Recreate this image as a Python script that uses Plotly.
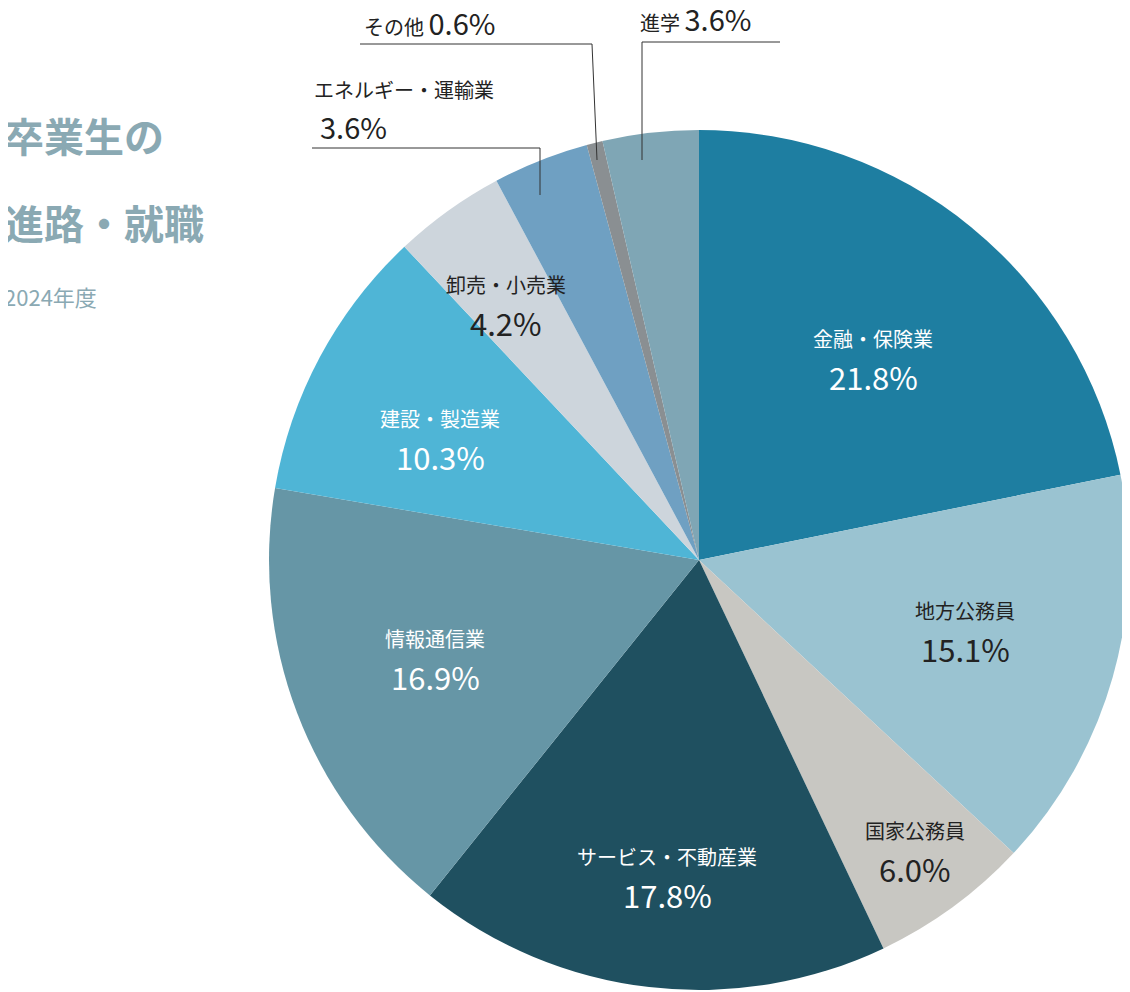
import plotly.graph_objects as go

labels = ['金融・保険業', '地方公務員', '国家公務員', 'サービス・不動産業', '情報通信業',
          '建設・製造業', '卸売・小売業', 'エネルギー・運輸業', 'その他', '進学']
values = [21.8, 15.1, 6.0, 17.8, 16.9, 10.3, 4.2, 3.6, 0.6, 3.6]
colors = ['#1e7ea1', '#9ac3d1', '#c8c7c2', '#1f5060', '#6696a6',
          '#4fb5d6', '#cdd5dc', '#6fa0c2', '#8a8f92', '#7fa6b5']

W, H = 1130, 992
OFF = 8  # page margin offset
FONT = 'Noto Sans CJK JP'

def px(x):
    return (x - OFF) / W

def py(y):
    return 1 - (y - OFF) / H

fig = go.Figure(go.Pie(
    labels=labels, values=values, sort=False, direction='clockwise', rotation=0,
    marker=dict(colors=colors, line=dict(width=0)), textinfo='none',
    hoverinfo='label+percent', showlegend=False,
    domain=dict(x=[px(269), px(1129)], y=[py(990), py(130)]),
))

# label centre in pixels, text colour
label_pos = {
    '金融・保険業': (873, 358, 'white'),
    '地方公務員': (965, 630, '#222'),
    '国家公務員': (915, 850, '#222'),
    'サービス・不動産業': (667, 876, 'white'),
    '情報通信業': (435, 658, 'white'),
    '建設・製造業': (440, 438, 'white'),
    '卸売・小売業': (506, 304, '#222'),
}
anns = []

def ann(text, x, y, size, color, xanchor='center'):
    anns.append(dict(x=px(x), y=py(y), text=text, showarrow=False, xanchor=xanchor,
                     yanchor='middle', font=dict(size=size, color=color, family=FONT)))

for lab, val in zip(labels, values):
    if lab in label_pos:
        x, y, c = label_pos[lab]
        ann(lab, x, y - 20, 20, c)
        ann(f'{val:.1f}%', x, y + 18, 31, c)

ann("その他 <span style='font-size:29px'>0.6%</span>", 362, 22, 20, '#222', 'left')
ann("進学 <span style='font-size:29px'>3.6%</span>", 638, 18, 20, '#222', 'left')
ann('エネルギー・運輸業', 312, 90, 20, '#222', 'left')
ann('3.6%', 318, 126, 29, '#222', 'left')

title_c = '#8aa9b3'
ann('<b>卒業生の</b>', 2, 135, 40, title_c, 'left')
ann('<b>進路・就職</b>', 2, 222, 40, title_c, 'left')
ann('2024年度', 2, 296, 22, title_c, 'left')

line = dict(color='#333', width=1)
shapes = []
for pts in [[(360, 44), (592, 44), (597, 160)],
            [(780, 42), (642, 42), (642, 160)],
            [(312, 148), (540, 148), (540, 195)]]:
    path = 'M ' + ' L '.join(f'{px(x)} {py(y)}' for x, y in pts)
    shapes.append(dict(type='path', xref='paper', yref='paper', path=path, line=line))

fig.update_layout(width=W, height=H, margin=dict(l=0, r=0, t=0, b=0),
                  paper_bgcolor='white', annotations=anns, shapes=shapes)
fig.write_html('out.html')
